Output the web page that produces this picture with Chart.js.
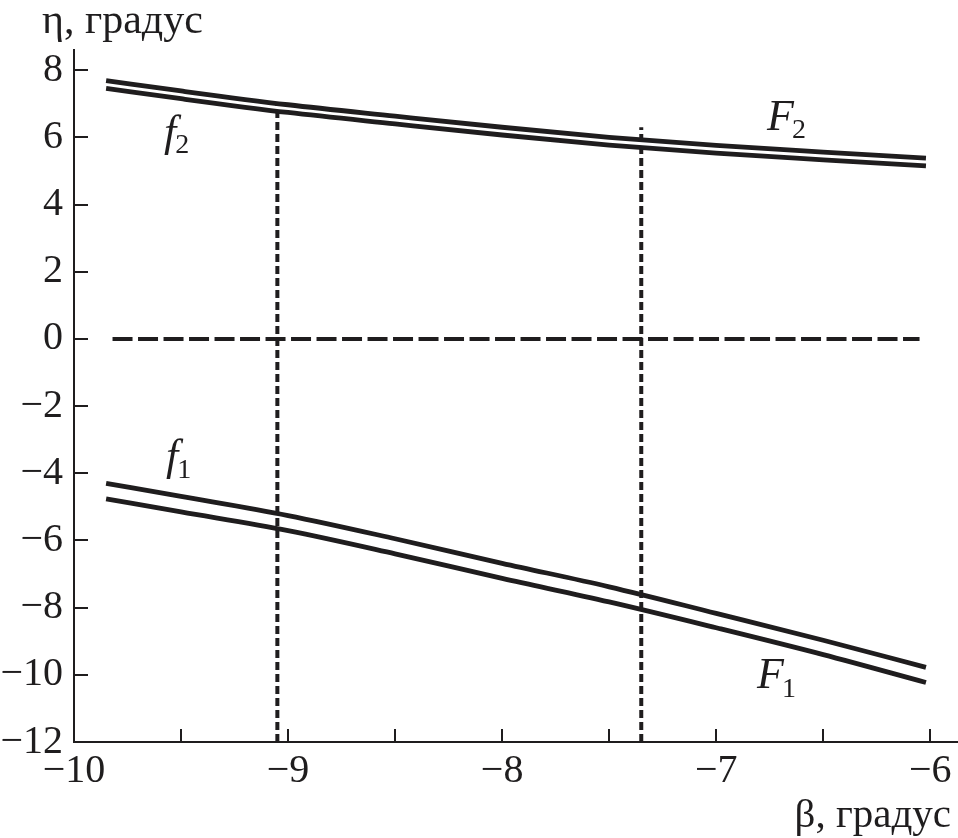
<!DOCTYPE html>
<html>
<head>
<meta charset="utf-8">
<script src="https://cdn.jsdelivr.net/npm/chart.js@4.4.0/dist/chart.umd.min.js"></script>
<style>
  html, body { margin: 0; padding: 0; background: #fff; }
  #wrap { width: 958px; height: 838px; position: relative; }
</style>
</head>
<body>
<div id="wrap"><canvas id="etaChart"></canvas></div>
<script>
// Data
const betaGrid = [-9.85, -9.5, -9, -8.5, -8, -7.5, -7, -6.5, -6.02];
const f2Upper = [7.69, 7.38, 6.97, 6.63, 6.30, 6.00, 5.76, 5.56, 5.38];
const f2Lower = [7.46, 7.15, 6.74, 6.40, 6.07, 5.77, 5.53, 5.33, 5.15];
const f1Upper = [-4.30, -4.69, -5.26, -5.95, -6.68, -7.38, -8.17, -8.97, -9.78];
const f1Lower = [-4.76, -5.15, -5.71, -6.40, -7.13, -7.83, -8.60, -9.40, -10.23];

const markerBeta = [-9.05, -7.35];
const markerTop = [7.0, 6.3];
const zeroLineBeta = [-9.82, -6.05];

const xTicks = [-10, -9.5, -9, -8.5, -8, -7.5, -7, -6.5, -6];
const yTicks = [-12, -10, -8, -6, -4, -2, 0, 2, 4, 6, 8];

const INK = "#1f1d1e";
const SERIF = "'Liberation Serif', 'Times New Roman', serif";

function pairs(xs, ys) {
  return xs.map((x, i) => ({ x, y: ys[i] }));
}

function curve(values) {
  return {
    data: pairs(betaGrid, values),
    borderColor: INK,
    borderWidth: 4.8,
    pointRadius: 0,
    cubicInterpolationMode: "monotone",
    fill: false,
  };
}

function fmt(v) {
  return String(v).replace("-", "\u2212");
}

const datasets = [
  curve(f2Upper),
  curve(f2Lower),
  curve(f1Upper),
  curve(f1Lower),
  {
    data: pairs(zeroLineBeta, [0, 0]),
    borderColor: INK,
    borderWidth: 4,
    borderDash: [20, 5.5],
    pointRadius: 0,
  },
];

markerBeta.forEach((b, i) => {
  datasets.push({
    data: [{ x: b, y: -12 }, { x: b, y: markerTop[i] }],
    borderColor: INK,
    borderWidth: 4,
    borderDash: [8, 4],
    pointRadius: 0,
  });
});

// Inward tick marks, axis titles and curve names
const decorPlugin = {
  id: "decor",
  afterDraw(chart) {
    const { ctx, chartArea, scales } = chart;
    ctx.save();
    ctx.strokeStyle = INK;
    ctx.lineWidth = 2;
    ctx.beginPath();
    xTicks.forEach((v) => {
      const px = Math.round(scales.x.getPixelForValue(v));
      ctx.moveTo(px, chartArea.bottom);
      ctx.lineTo(px, chartArea.bottom - 13);
    });
    yTicks.forEach((v) => {
      const py = Math.round(scales.y.getPixelForValue(v));
      ctx.moveTo(chartArea.left, py);
      ctx.lineTo(chartArea.left + 14, py);
    });
    ctx.stroke();

    ctx.fillStyle = INK;
    ctx.textBaseline = "alphabetic";
    ctx.textAlign = "left";
    ctx.font = "42px " + SERIF;
    ctx.fillText("\u03b7, градус", 42, 33);
    ctx.textAlign = "right";
    ctx.font = "41px " + SERIF;
    ctx.fillText("\u03b2, градус", 951, 827);

    const names = [
      ["f", "2", 164, 146, 153],
      ["F", "2", 767, 130, 138],
      ["f", "1", 166, 470, 478],
      ["F", "1", 757, 688, 697],
    ];
    ctx.textAlign = "left";
    names.forEach(([main, sub, x, y, ys]) => {
      ctx.font = "italic 44px " + SERIF;
      ctx.fillText(main, x, y);
      const w = ctx.measureText(main).width;
      ctx.font = "28px " + SERIF;
      ctx.fillText(sub, x + w - (main === "f" ? 1 : 2), ys);
    });
    ctx.restore();
  },
};

new Chart(document.getElementById("etaChart").getContext("2d"), {
  type: "line",
  data: { datasets },
  options: {
    responsive: true,
    maintainAspectRatio: false,
    animation: false,
    layout: { padding: { top: 50, right: 1, bottom: 0, left: 0 } },
    plugins: { legend: { display: false }, tooltip: { enabled: false } },
    scales: {
      x: {
        type: "linear",
        min: -10,
        max: -5.875,
        afterBuildTicks: (scale) => { scale.ticks = xTicks.map((value) => ({ value })); },
        afterFit: (scale) => { scale.height = 96; },
        grid: { drawOnChartArea: false, drawTicks: false },
        border: { display: true, color: INK, width: 2 },
        ticks: {
          padding: 5,
          color: INK,
          maxRotation: 0,
          autoSkip: false,
          font: { family: SERIF, size: 40 },
          callback: (v) => (Number.isInteger(v) ? fmt(v) : ""),
        },
      },
      y: {
        min: -12,
        max: 8.6,
        afterBuildTicks: (scale) => { scale.ticks = yTicks.map((value) => ({ value })); },
        afterFit: (scale) => { scale.width = 74; },
        grid: { drawOnChartArea: false, drawTicks: false },
        border: { display: true, color: INK, width: 2 },
        ticks: {
          padding: 11,
          color: INK,
          autoSkip: false,
          font: { family: SERIF, size: 40 },
          callback: (v) => fmt(v),
        },
      },
    },
  },
  plugins: [decorPlugin],
});
</script>
</body>
</html>
